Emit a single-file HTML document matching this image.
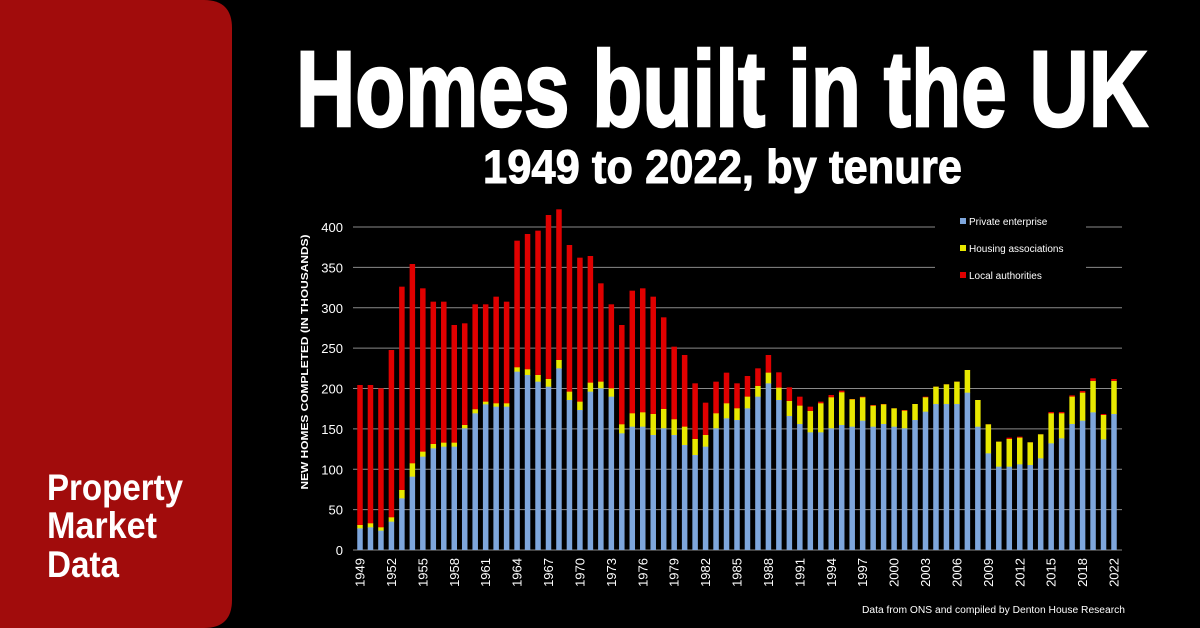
<!DOCTYPE html>
<html><head><meta charset="utf-8"><style>
html,body{margin:0;padding:0;background:#000;}
svg{display:block;}
</style></head><body>
<svg id="s" width="1200" height="628" viewBox="0 0 1200 628" xmlns="http://www.w3.org/2000/svg">
<rect width="1200" height="628" fill="#000"/>
<path d="M0 0 H204 Q232 0 232 28 V600 Q232 628 204 628 H0 Z" fill="#a10c0c"/>
<g font-family="'Liberation Sans',sans-serif" font-weight="bold" fill="#fff">
<text x="47" y="500" font-size="37" textLength="136" lengthAdjust="spacingAndGlyphs">Property</text>
<text x="47" y="538" font-size="37" textLength="110" lengthAdjust="spacingAndGlyphs">Market</text>
<text x="47" y="577" font-size="37" textLength="72" lengthAdjust="spacingAndGlyphs">Data</text>
<text x="296" y="126" font-size="108" textLength="852" lengthAdjust="spacingAndGlyphs" stroke="#fff" stroke-width="2.5">Homes built in the UK</text>
<text x="483" y="183" font-size="47" textLength="479" lengthAdjust="spacingAndGlyphs" stroke="#fff" stroke-width="1">1949 to 2022, by tenure</text>
</g>
<g id="grid" stroke="#8a8a8a" stroke-width="1"></g>
<g id="bars"></g>
<g id="labels" font-family="'Liberation Sans',sans-serif" fill="#fff"></g>
<text transform="translate(308,362) rotate(-90)" text-anchor="middle" font-family="'Liberation Sans',sans-serif" font-weight="bold" font-size="10" fill="#fff" textLength="255" lengthAdjust="spacingAndGlyphs">NEW HOMES COMPLETED (IN THOUSANDS)</text>
<g font-family="'Liberation Sans',sans-serif" font-size="10" fill="#fff">
<rect x="960" y="218" width="6" height="6" fill="#7ea6dc"/>
<text x="969" y="225">Private enterprise</text>
<rect x="960" y="245" width="6" height="6" fill="#e8e800"/>
<text x="969" y="252">Housing associations</text>
<rect x="960" y="272" width="6" height="6" fill="#e00000"/>
<text x="969" y="279">Local authorities</text>
<text x="862" y="613" textLength="263" lengthAdjust="spacingAndGlyphs">Data from ONS and compiled by Denton House Research</text>
</g>
</svg>
<script>
var NS="http://www.w3.org/2000/svg";
function el(t,a,p,txt){var e=document.createElementNS(NS,t);for(var k in a)e.setAttribute(k,a[k]);if(txt)e.textContent=txt;document.getElementById(p).appendChild(e);return e;}
var d=[[985,975,555],[982,970,555],[992,982,565],[965,952,450],[895,870,260],[830,790,192],[770,755,265],[745,732,305],[740,728,305],[740,728,375],[685,675,370],[640,628,313],[613,605,313],[620,610,290],[620,610,305],[515,502,122],[525,508,102],[545,525,92],[560,537,45],[505,480,28],[600,575,135],[630,605,173],[575,548,168],[565,545,250],[590,565,313],[700,673,375],[680,640,272],[680,637,265],[705,642,290],[685,627,352],[705,658,440],[735,680,465],[765,717,550],[740,705,608],[685,640,545],
[655,610,518],[660,625,550],[625,590,528],[590,558,505],[550,518,465],[600,563,517],[648,603,562],[672,617,590],[697,633,620],[697,610,605],[685,592,585],[675,577,572],[680,598,597],[662,592,590],[680,617,615],[672,613,612],[680,625,625],[685,632,630],[660,612,612],[635,592,590],[612,560,560],[612,553,553],[612,545,545],[578,510,510],[680,600,600],[760,673,673],[800,725,725],[800,717,713],[793,713,710],[795,727,727],[775,703,703],[730,640,636],[715,640,636],[672,590,586],[662,578,573],[637,543,535],[718,645,642],[642,543,537]];
var n=d.length, x0=360, x1=1114, sp=(x1-x0)/(n-1);
for(var v=0;v<=400;v+=50){var y=550-v*0.8075;
 if(v>=350){el('line',{x1:353,x2:935,y1:y,y2:y},'grid');el('line',{x1:1086,x2:1122,y1:y,y2:y},'grid');}
 else el('line',{x1:353,x2:1122,y1:y,y2:y},'grid');
 el('text',{x:343,y:y+5,'text-anchor':'end','font-size':13},'labels',String(v));}
for(var i=0;i<n;i++){var cx=x0+i*sp,w=5.5,b=d[i];
 var yb=200+b[0]/3,yy=200+b[1]/3,yr=200+b[2]/3;
 el('rect',{x:cx-w/2,y:yr,width:w,height:yy-yr+0.5,fill:'#e00000'},'bars');
 el('rect',{x:cx-w/2,y:yy,width:w,height:yb-yy+0.5,fill:'#e8e800'},'bars');
 el('rect',{x:cx-w/2,y:yb,width:w,height:550-yb,fill:'#7ea6dc'},'bars');}
var yrs=[1949,1952,1955,1958,1961,1964,1967,1970,1973,1976,1979,1982,1985,1988,1991,1994,1997,2000,2003,2006,2009,2012,2015,2018,2022];
for(var j=0;j<yrs.length;j++){var cx=x0+j*3*sp;
 el('text',{transform:'translate('+(cx+4.5)+',558) rotate(-90)','text-anchor':'end','font-size':13},'labels',String(yrs[j]));}
</script>
</body></html>
